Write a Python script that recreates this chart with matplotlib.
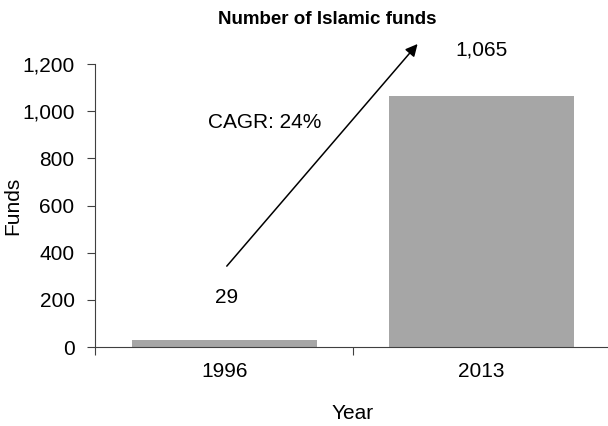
import matplotlib.pyplot as plt
from matplotlib.ticker import FuncFormatter

plt.rcParams['font.family'] = ['Liberation Sans', 'DejaVu Sans']

years = ['1996', '2013']
funds = [29, 1065]
cagr_label = 'CAGR: 24%'

FS = 15

fig = plt.figure(figsize=(6.08, 4.26), dpi=100)
ax = fig.add_axes([0.157, 0.1854, 0.847, 0.6643])

x = range(len(years))
ax.bar(x, funds, width=0.718, color='#a6a6a6')

# value labels above bars
ax.text(0.01, 208, f'{funds[0]:,}', ha='center', va='center', fontsize=FS)
ax.text(1.0, 1260, f'{funds[1]:,}', ha='center', va='center', fontsize=FS)

# growth arrow
ax.annotate('', xy=(0.751, 1285), xytext=(0.01, 343),
            arrowprops=dict(arrowstyle='-|>', color='black', lw=1.1,
                            mutation_scale=18, shrinkA=0, shrinkB=0),
            annotation_clip=False)
ax.text(0.157, 954, cagr_label, ha='center', va='center', fontsize=FS)

ax.set_xlim(-0.5, 1.5)
ax.set_ylim(0, 1200)
ax.set_yticks(range(0, 1201, 200))
ax.yaxis.set_major_formatter(FuncFormatter(lambda v, p: f'{int(v):,}'))
ax.set_xticks([-0.5, 0.5, 1.5])
ax.set_xticklabels([])
ax.set_xticks(list(x), minor=True)
ax.set_xticklabels(years, minor=True)
ax.tick_params(axis='x', which='minor', length=0, pad=11, labelsize=FS)
ax.tick_params(axis='x', which='major', length=6, direction='out', color='#404040')
ax.tick_params(axis='y', length=6, direction='out', color='#404040', labelsize=FS, pad=9)

for s in ['top', 'right']:
    ax.spines[s].set_visible(False)
for s in ['left', 'bottom']:
    ax.spines[s].set_color('#404040')

ax.set_xlabel('Year', fontsize=FS, labelpad=16)
ax.set_ylabel('Funds', fontsize=FS, labelpad=0)
fig.text(0.538, 0.955, 'Number of Islamic funds', ha='center', va='center',
         fontsize=13.5, fontweight='bold')

fig.savefig('out.png', dpi=100)
